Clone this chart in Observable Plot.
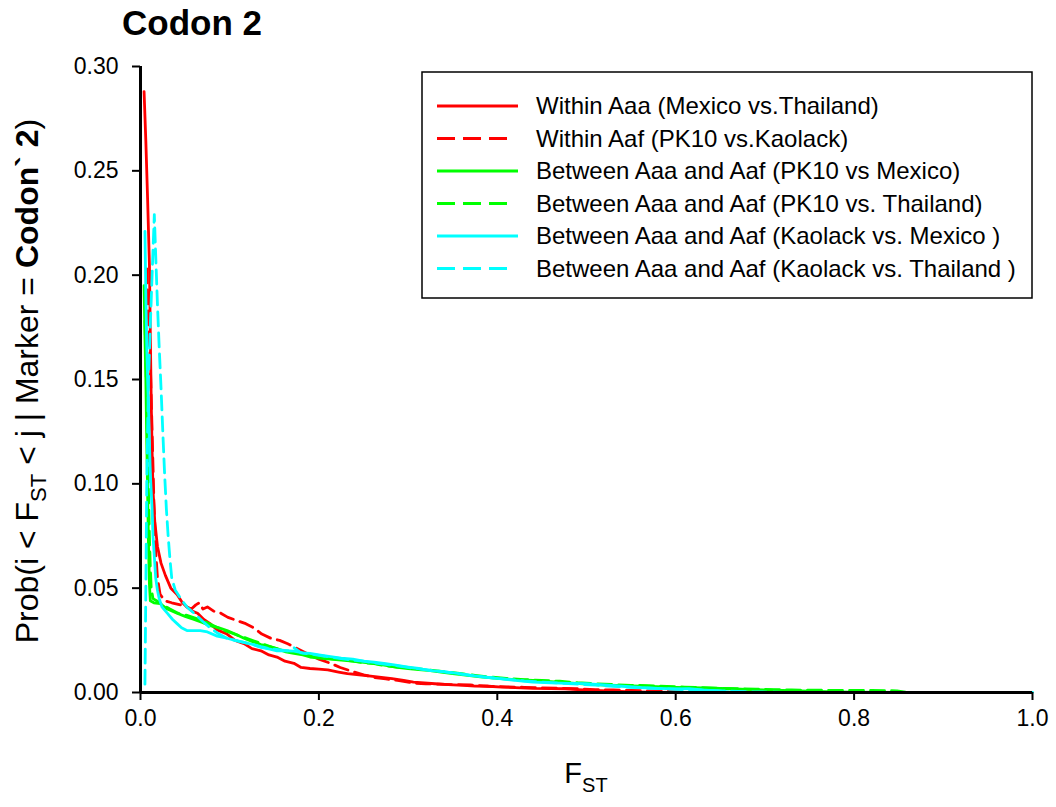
<!DOCTYPE html>
<html><head><meta charset="utf-8">
<script src="https://cdn.jsdelivr.net/npm/d3@7"></script>
<script src="https://cdn.jsdelivr.net/npm/@observablehq/plot@0.6"></script>
<style>
body{margin:0;background:#fff;font-family:Arial,"Liberation Sans",sans-serif;}
#wrap{position:relative;width:1056px;height:807px;overflow:hidden;}
#title{position:absolute;left:122px;top:3px;font-size:35px;font-weight:bold;line-height:40px;color:#000;}
#chart{position:absolute;left:0;top:0;}
</style></head>
<body>
<div id="wrap"><div id="chart"></div><div id="title">Codon 2</div></div>
<script>
// ---- data: [FST, probability] ----
const withinAaaMexThai = [[0.004,0.288],[0.006,0.264],[0.008,0.236],[0.010,0.205],[0.011,0.172],[0.012,0.140],[0.013,0.116],[0.014,0.097],[0.016,0.082],[0.019,0.070],[0.023,0.062],[0.028,0.056],[0.034,0.050],[0.041,0.047],[0.047,0.043],[0.052,0.041],[0.058,0.039],[0.064,0.038],[0.071,0.035],[0.078,0.033],[0.086,0.030],[0.097,0.028],[0.106,0.025],[0.116,0.0234],[0.125,0.021],[0.135,0.020],[0.144,0.018],[0.153,0.017],[0.162,0.015],[0.172,0.014],[0.180,0.012],[0.190,0.0115],[0.200,0.0112],[0.210,0.0108],[0.222,0.0098],[0.232,0.0090],[0.245,0.0085],[0.258,0.0078],[0.270,0.0072],[0.282,0.0066],[0.295,0.0058],[0.306,0.0050],[0.318,0.0046],[0.330,0.0042],[0.345,0.0038],[0.362,0.0034],[0.375,0.0031],[0.390,0.0030],[0.405,0.0026],[0.420,0.0023],[0.440,0.0020],[0.460,0.0019],[0.476,0.0018],[0.490,0.0014],[0.510,0.0010],[0.530,0.0007],[0.546,0.0004],[0.570,0.0002],[0.600,0.0001],[0.640,0],[0.700,0],[0.780,0]];
const withinAafPK10Kao = [[0.007,0.203],[0.009,0.178],[0.011,0.158],[0.013,0.125],[0.015,0.092],[0.017,0.068],[0.019,0.055],[0.022,0.047],[0.027,0.044],[0.035,0.043],[0.045,0.042],[0.052,0.041],[0.057,0.040],[0.062,0.042],[0.066,0.043],[0.070,0.040],[0.075,0.041],[0.082,0.039],[0.090,0.038],[0.098,0.036],[0.108,0.0345],[0.118,0.033],[0.127,0.031],[0.136,0.028],[0.146,0.026],[0.156,0.025],[0.165,0.0234],[0.176,0.021],[0.190,0.018],[0.200,0.016],[0.213,0.014],[0.224,0.012],[0.238,0.010],[0.250,0.0085],[0.262,0.0072],[0.275,0.0065],[0.290,0.0057],[0.306,0.0045],[0.320,0.0042],[0.335,0.0040],[0.350,0.0038],[0.370,0.0036],[0.390,0.0030],[0.410,0.0027],[0.430,0.0025],[0.450,0.0022],[0.470,0.0020],[0.490,0.0018],[0.510,0.0014],[0.530,0.0012],[0.550,0.0010],[0.570,0.0008],[0.590,0.0005],[0.610,0.0003],[0.640,0.0001],[0.680,0]];
const betweenPK10Mex = [[0.004,0.195],[0.005,0.170],[0.006,0.150],[0.007,0.120],[0.008,0.095],[0.009,0.070],[0.010,0.052],[0.011,0.044],[0.015,0.043],[0.022,0.0426],[0.030,0.040],[0.041,0.038],[0.050,0.0365],[0.060,0.035],[0.070,0.0335],[0.078,0.032],[0.088,0.031],[0.097,0.0297],[0.106,0.028],[0.116,0.026],[0.125,0.0245],[0.135,0.023],[0.145,0.022],[0.153,0.021],[0.163,0.0195],[0.172,0.0187],[0.182,0.018],[0.190,0.017],[0.200,0.0165],[0.213,0.016],[0.225,0.0155],[0.238,0.015],[0.250,0.0145],[0.262,0.014],[0.275,0.013],[0.288,0.012],[0.300,0.0115],[0.312,0.011],[0.325,0.0105],[0.337,0.0098],[0.350,0.0090],[0.362,0.0085],[0.381,0.0075],[0.400,0.0068],[0.420,0.0062],[0.440,0.0058],[0.460,0.0052],[0.480,0.0046],[0.500,0.0040],[0.520,0.0036],[0.540,0.0033],[0.560,0.0030],[0.580,0.0028],[0.600,0.0025],[0.620,0.0023],[0.640,0.0021],[0.660,0.0018],[0.680,0.0015],[0.700,0.0012],[0.720,0.0010],[0.740,0.0008],[0.760,0.0005],[0.780,0.0003],[0.800,0.0002],[0.850,0]];
const betweenPK10Thai = [[0.005,0.178],[0.006,0.160],[0.007,0.140],[0.008,0.118],[0.009,0.095],[0.010,0.075],[0.011,0.060],[0.012,0.050],[0.014,0.045],[0.018,0.044],[0.025,0.042],[0.033,0.040],[0.042,0.038],[0.052,0.037],[0.062,0.0355],[0.072,0.034],[0.082,0.032],[0.092,0.030],[0.102,0.0285],[0.112,0.027],[0.122,0.0255],[0.132,0.024],[0.142,0.0225],[0.152,0.021],[0.162,0.020],[0.175,0.019],[0.188,0.0178],[0.200,0.017],[0.212,0.0162],[0.225,0.0157],[0.238,0.015],[0.250,0.0143],[0.262,0.0138],[0.275,0.0128],[0.288,0.0122],[0.300,0.0118],[0.315,0.0112],[0.330,0.0105],[0.345,0.0098],[0.360,0.0090],[0.375,0.0082],[0.390,0.0075],[0.410,0.0068],[0.430,0.0062],[0.450,0.0058],[0.470,0.0054],[0.490,0.0047],[0.510,0.0042],[0.530,0.0038],[0.550,0.0034],[0.570,0.0033],[0.590,0.0029],[0.610,0.0026],[0.630,0.0023],[0.650,0.0020],[0.670,0.0018],[0.690,0.0016],[0.710,0.0014],[0.730,0.0012],[0.760,0.0011],[0.790,0.0010],[0.820,0.0010],[0.848,0.0008],[0.860,0]];
const betweenKaoMex = [[0.005,0.221],[0.006,0.190],[0.007,0.166],[0.008,0.150],[0.009,0.136],[0.010,0.120],[0.011,0.105],[0.013,0.088],[0.014,0.075],[0.016,0.062],[0.017,0.055],[0.019,0.049],[0.021,0.045],[0.024,0.041],[0.030,0.038],[0.036,0.035],[0.041,0.033],[0.046,0.031],[0.052,0.0297],[0.060,0.0297],[0.067,0.0297],[0.075,0.029],[0.086,0.027],[0.097,0.026],[0.106,0.025],[0.116,0.024],[0.126,0.023],[0.135,0.0216],[0.145,0.0208],[0.153,0.020],[0.162,0.020],[0.172,0.0198],[0.182,0.019],[0.190,0.0187],[0.200,0.018],[0.213,0.0172],[0.225,0.0165],[0.238,0.016],[0.250,0.015],[0.262,0.0145],[0.275,0.0138],[0.288,0.013],[0.300,0.0122],[0.312,0.0115],[0.325,0.0105],[0.340,0.010],[0.355,0.0092],[0.370,0.0082],[0.383,0.0075],[0.400,0.0068],[0.420,0.0058],[0.440,0.0050],[0.460,0.0046],[0.480,0.0044],[0.499,0.0043],[0.520,0.0036],[0.540,0.0030],[0.560,0.0024],[0.580,0.0020],[0.600,0.0017],[0.615,0.0019],[0.630,0.0012],[0.645,0.0008],[0.660,0.0003],[0.680,0.0001],[0.700,0],[1.000,0]];
const betweenKaoThai = [[0.005,0.004],[0.006,0.050],[0.007,0.100],[0.009,0.150],[0.011,0.176],[0.013,0.200],[0.0155,0.229],[0.017,0.210],[0.019,0.186],[0.021,0.165],[0.023,0.146],[0.025,0.125],[0.027,0.105],[0.029,0.088],[0.031,0.075],[0.033,0.064],[0.035,0.055],[0.039,0.049],[0.045,0.045],[0.052,0.041],[0.060,0.038],[0.070,0.034],[0.078,0.031],[0.088,0.028],[0.097,0.026],[0.106,0.025],[0.116,0.024],[0.126,0.023],[0.135,0.022],[0.145,0.021],[0.155,0.0205],[0.165,0.020],[0.172,0.0215],[0.180,0.019],[0.190,0.0185],[0.200,0.0178],[0.213,0.017],[0.225,0.0162],[0.238,0.0155],[0.250,0.015],[0.262,0.0142],[0.275,0.0135],[0.288,0.0128],[0.300,0.012],[0.315,0.0112],[0.330,0.0104],[0.345,0.0096],[0.360,0.0088],[0.375,0.0080],[0.390,0.0072],[0.410,0.0064],[0.430,0.0056],[0.450,0.0050],[0.470,0.0045],[0.490,0.0040],[0.510,0.0035],[0.530,0.0030],[0.550,0.0025],[0.570,0.0021],[0.590,0.0017],[0.610,0.0014],[0.630,0.0011],[0.650,0.0008],[0.670,0.0005],[0.690,0.0003],[0.720,0.0001],[0.750,0]];

const seriesNames = [
  "Within Aaa (Mexico vs.Thailand)",
  "Within Aaf (PK10 vs.Kaolack)",
  "Between Aaa and Aaf (PK10 vs Mexico)",
  "Between Aaa and Aaf (PK10 vs. Thailand)",
  "Between Aaa and Aaf (Kaolack vs. Mexico )",
  "Between Aaa and Aaf (Kaolack vs. Thailand )"
];
const seriesValues = [withinAaaMexThai, withinAafPK10Kao, betweenPK10Mex, betweenPK10Thai, betweenKaoMex, betweenKaoThai];
const seriesColors = ["#ff0000","#ff0000","#00ff00","#00ff00","#00ffff","#00ffff"];
const seriesDashed = [false, true, false, true, false, true];
const xTicks = [0, 0.2, 0.4, 0.6, 0.8, 1.0];
const yTicks = [0, 0.05, 0.10, 0.15, 0.20, 0.25, 0.30];

const DASH = "14,7";
const rows = seriesValues.flatMap((vals, i) => vals.map(([fst, prob]) => ({fst, prob, series: seriesNames[i]})));

const lineMarks = seriesNames.map((name, i) =>
  Plot.line(rows.filter(d => d.series === name), {
    x: "fst", y: "prob", stroke: seriesColors[i], strokeWidth: 2.8,
    strokeDasharray: seriesDashed[i] ? DASH : null, strokeLinejoin: "round"
  })
);

const chart = Plot.plot({
  width: 1056, height: 807,
  marginLeft: 140, marginRight: 24, marginTop: 66, marginBottom: 115,
  style: {fontFamily: "Arial, 'Liberation Sans', sans-serif", fontSize: "23px", color: "#000", background: "#fff"},
  x: {domain: [0, 1], label: null},
  y: {domain: [0, 0.3], label: null},
  marks: [
    ...lineMarks,
    Plot.axisX({ticks: xTicks, tickFormat: d3.format(".1f"), tickSize: 8, tickPadding: 9, strokeWidth: 2, fontSize: 23, label: null}),
    Plot.axisY({ticks: yTicks, tickFormat: d3.format(".2f"), tickSize: 8, tickPadding: 14, strokeWidth: 2, fontSize: 23, label: null}),
    Plot.ruleX([0], {strokeWidth: 3, stroke: "#000"}),
    Plot.ruleY([0], {strokeWidth: 3, stroke: "#000"})
  ]
});
document.getElementById("chart").appendChild(chart);

const svg = d3.select(chart);
// y-axis label
const yl = svg.append("text")
  .attr("transform", "translate(38,381) rotate(-90)")
  .attr("text-anchor", "middle")
  .attr("font-size", 32).attr("fill", "#000");
yl.append("tspan").text("Prob(i < F");
yl.append("tspan").attr("font-size", 22).attr("dy", 8).text("ST");
yl.append("tspan").attr("dy", -8).text(" < j | Marker = ");
yl.append("tspan").attr("font-weight", "bold").text("Codon` 2");
yl.append("tspan").text(")");
// x-axis label
const xl = svg.append("text").attr("x", 586).attr("y", 783).attr("text-anchor", "middle")
  .attr("font-size", 29).attr("fill", "#000");
xl.append("tspan").text("F");
xl.append("tspan").attr("font-size", 20).attr("dy", 9).text("ST");

// legend
const lg = svg.append("g");
lg.append("rect").attr("x", 422).attr("y", 72).attr("width", 610).attr("height", 226)
  .attr("fill", "#fff").attr("stroke", "#000").attr("stroke-width", 1.5);
seriesNames.forEach((name, i) => {
  const y = 106 + i * 32.5;
  lg.append("line").attr("x1", 437).attr("x2", seriesDashed[i] ? 508 : 518).attr("y1", y).attr("y2", y)
    .attr("stroke", seriesColors[i]).attr("stroke-width", 3)
    .attr("stroke-dasharray", seriesDashed[i] ? "18,8" : null);
  lg.append("text").attr("x", 536).attr("y", y).attr("dy", "0.35em").attr("text-anchor", "start")
    .attr("font-size", 24).attr("fill", "#000").text(name);
});
</script>
</body></html>
